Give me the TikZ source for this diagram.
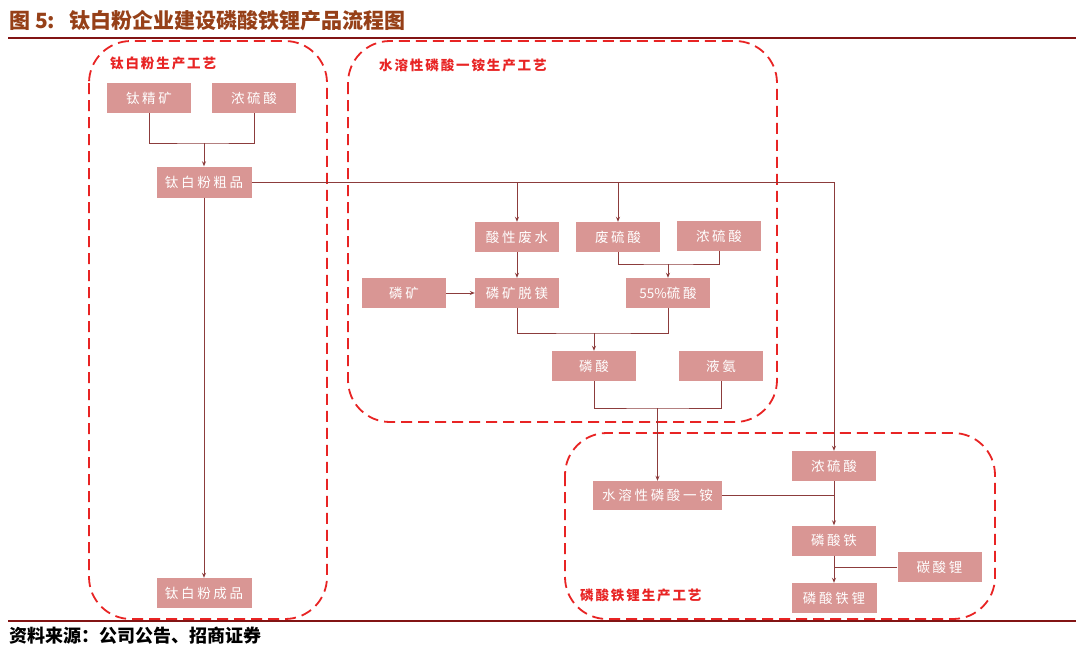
\documentclass[tikz,border=0pt]{standalone}
\usepackage{fontspec}
\newfontfamily\cjk{Noto Sans CJK SC}
\newfontfamily\cjks[LetterSpace=14]{Noto Sans CJK SC}
\newfontfamily\cjkb[LetterSpace=20]{Noto Sans CJK SC}
\usetikzlibrary{arrows.meta}
\definecolor{boxc}{RGB}{217,150,148}
\definecolor{linec}{RGB}{140,60,60}
\definecolor{dashc}{RGB}{232,36,36}
\definecolor{titlec}{RGB}{150,64,24}
\definecolor{rulec}{RGB}{130,20,20}
\tikzset{
  pbox/.style={fill=boxc, draw=none, text=white, inner sep=0pt,
    minimum width=84pt, minimum height=30pt, font=\cjkb\fontsize{13.5}{13.5}\selectfont},
  conn/.style={draw=linec, line width=0.8pt},
  arr/.style={conn, -{Stealth[length=5pt,width=4pt]}},
  dashbox/.style={draw=dashc, line width=1.8pt, dash pattern=on 11pt off 6pt, rounded corners=42pt},
  grplabel/.style={text=dashc, anchor=west, inner sep=0pt, font=\cjks\bfseries\fontsize{13.5}{13.5}\selectfont},
}
\begin{document}
\begin{tikzpicture}[x=1pt,y=-1pt]
\useasboundingbox (0,0) rectangle (1080,654);
\fill[white] (0,0) rectangle (1080,654);

% title and rules
\node[anchor=west, inner sep=0pt, text=titlec, font=\cjk\bfseries\fontsize{21}{21}\selectfont] (title) at (9,21) {图 5:\hspace{14pt}钛白粉企业建设磷酸铁锂产品流程图};
\draw[rulec, line width=1.8pt] (8,38) -- (1076,38);
\draw[rulec, line width=1.8pt] (8,621) -- (1076,621);
\node[anchor=west, inner sep=0pt, text=black, font=\cjk\bfseries\fontsize{18}{18}\selectfont] (src) at (9,636) {资料来源：公司公告、招商证券};

% dashed groups
\draw[dashbox] (89,41) rectangle (327,619);
\draw[dashbox] (348,41) rectangle (777,422);
\draw[dashbox] (565,433) rectangle (995,619);
\node[grplabel] (g1) at (110,63) {钛白粉生产工艺};
\node[grplabel] (g2) at (379,65) {水溶性磷酸一铵生产工艺};
\node[grplabel] (g3) at (580,595) {磷酸铁锂生产工艺};

% boxes
\node[pbox] (tjk) at (149,98) {钛精矿};
\node[pbox] (nls1) at (254,98) {浓硫酸};
\node[pbox, minimum width=95pt, minimum height=31pt] (tbcp) at (204,182) {钛白粉粗品};
\node[pbox, minimum width=95pt] (tbfcp) at (204,593) {钛白粉成品};

\node[pbox] (sxfs) at (517,237) {酸性废水};
\node[pbox] (fls) at (618,237) {废硫酸};
\node[pbox] (nls2) at (719,236) {浓硫酸};
\node[pbox] (lk) at (404,293) {磷矿};
\node[pbox] (lktm) at (517,293) {磷矿脱镁};
\node[pbox] (s55) at (668,293) {{\cjk\fontsize{13.5}{13.5}\selectfont 55\%}硫酸};
\node[pbox] (ls) at (594,366) {磷酸};
\node[pbox] (ya) at (721,366) {液氨};

\node[pbox] (nls3) at (834,466) {浓硫酸};
\node[pbox, minimum width=129pt, minimum height=29pt] (sr) at (657.5,495.5) {水溶性磷酸一铵};
\node[pbox] (lst) at (834,540.5) {磷酸铁};
\node[pbox] (tsl) at (939.5,567) {碳酸锂};
\node[pbox, minimum width=85pt] (lstl) at (834,598) {磷酸铁锂};

% junctions
\coordinate (j1) at (204,143);
\coordinate (j2) at (668,264);
\coordinate (j3) at (594,333);
\coordinate (j4) at (657.5,408);

% connectors
\draw[conn] (tjk.south) |- (j1) -| (nls1.south);
\draw[arr] (j1) -- (tbcp.north);
\draw[arr] (tbcp.south) -- (tbfcp.north);
\draw[arr] (tbcp.east) -| (nls3.north);
\draw[arr] (sxfs.north |- tbcp.east) -- (sxfs.north);
\draw[arr] (fls.north |- tbcp.east) -- (fls.north);
\draw[arr] (sxfs.south) -- (lktm.north);
\draw[arr] (lk.east) -- (lktm.west);
\draw[conn] (fls.south) |- (j2) -| (nls2.south);
\draw[arr] (j2) -- (s55.north);
\draw[conn] (lktm.south) |- (j3) -| (s55.south);
\draw[arr] (j3) -- (ls.north);
\draw[conn] (ls.south) |- (j4) -| (ya.south);
\draw[arr] (j4) -- (sr.north);
\draw[arr] (nls3.south) -- (lst.north);
\draw[conn] (sr.east) -- (sr.east -| nls3.south);
\draw[arr] (lst.south) -- (lstl.north);
\draw[conn] (tsl.west) -- (tsl.west -| lst.south);
\end{tikzpicture}
\end{document}
